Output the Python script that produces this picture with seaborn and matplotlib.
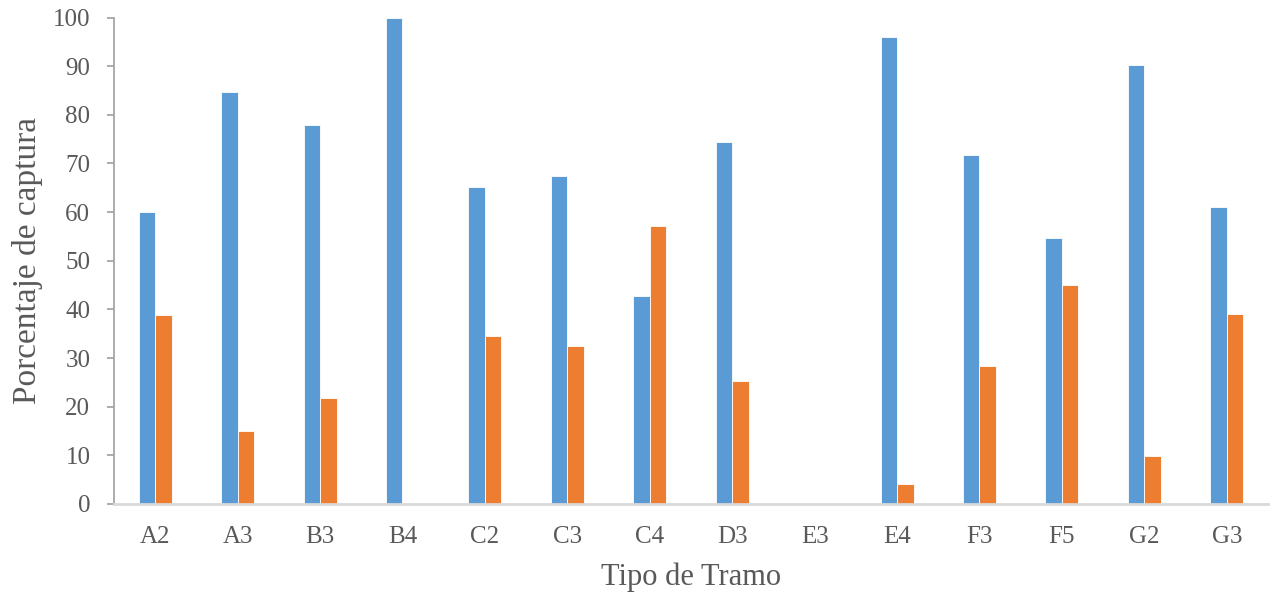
import matplotlib
matplotlib.use("Agg")
import matplotlib.pyplot as plt
import seaborn as sns
import pandas as pd

# Capture percentage per reach type, two groups
tramos = ["A2", "A3", "B3", "B4", "C2", "C3", "C4", "D3", "E3", "E4", "F3", "F5", "G2", "G3"]
serie_1 = [60.0, 84.7, 78.0, 100.0, 65.2, 67.5, 42.8, 74.5, 0.0, 95.9, 71.7, 54.7, 90.2, 61.0]
serie_2 = [38.9, 15.1, 21.7, 0.0, 34.5, 32.4, 57.1, 25.2, 0.0, 4.1, 28.3, 45.0, 9.9, 39.0]
yticks = [0, 10, 20, 30, 40, 50, 60, 70, 80, 90, 100]

df = pd.DataFrame({
    "Tramo": tramos * 2,
    "Porcentaje": serie_1 + serie_2,
    "Serie": ["1"] * len(tramos) + ["2"] * len(tramos),
})

sns.set_theme(style="white")
plt.rcParams["font.family"] = ["Liberation Serif", "DejaVu Serif"]

text_color = "#595959"

fig = plt.figure(figsize=(12.75, 5.96), dpi=100)
ax = fig.add_axes([0.0894, 0.1544, 0.9051, 0.8162])

sns.barplot(
    data=df, x="Tramo", y="Porcentaje", hue="Serie",
    order=tramos, hue_order=["1", "2"],
    palette=["#5B9BD5", "#ED7D31"], saturation=1,
    width=0.4, edgecolor="#ffffff", linewidth=0.6,
    legend=False, ax=ax,
)

ax.set_xlim(-0.5, len(tramos) - 0.5)
ax.set_ylim(0, 100)
ax.set_yticks(yticks)
ax.set_yticklabels([str(v) for v in yticks])

for side in ["top", "right"]:
    ax.spines[side].set_visible(False)
ax.spines["left"].set_color("#a6a6a6")
ax.spines["left"].set_linewidth(1.3)
ax.spines["bottom"].set_color("#d9d9d9")
ax.spines["bottom"].set_linewidth(2.0)

ax.tick_params(axis="y", direction="out", length=5, width=1.3, color="#a6a6a6",
               pad=12, labelsize=18, labelcolor=text_color, left=True)
ax.tick_params(axis="x", length=0, pad=16, labelsize=18, labelcolor=text_color)

ax.set_xlabel("Tipo de Tramo", fontsize=22, color=text_color, labelpad=10)
ax.set_ylabel("Porcentaje de captura", fontsize=24, color=text_color, labelpad=7)

fig.savefig("out.png", dpi=100, facecolor="white")
